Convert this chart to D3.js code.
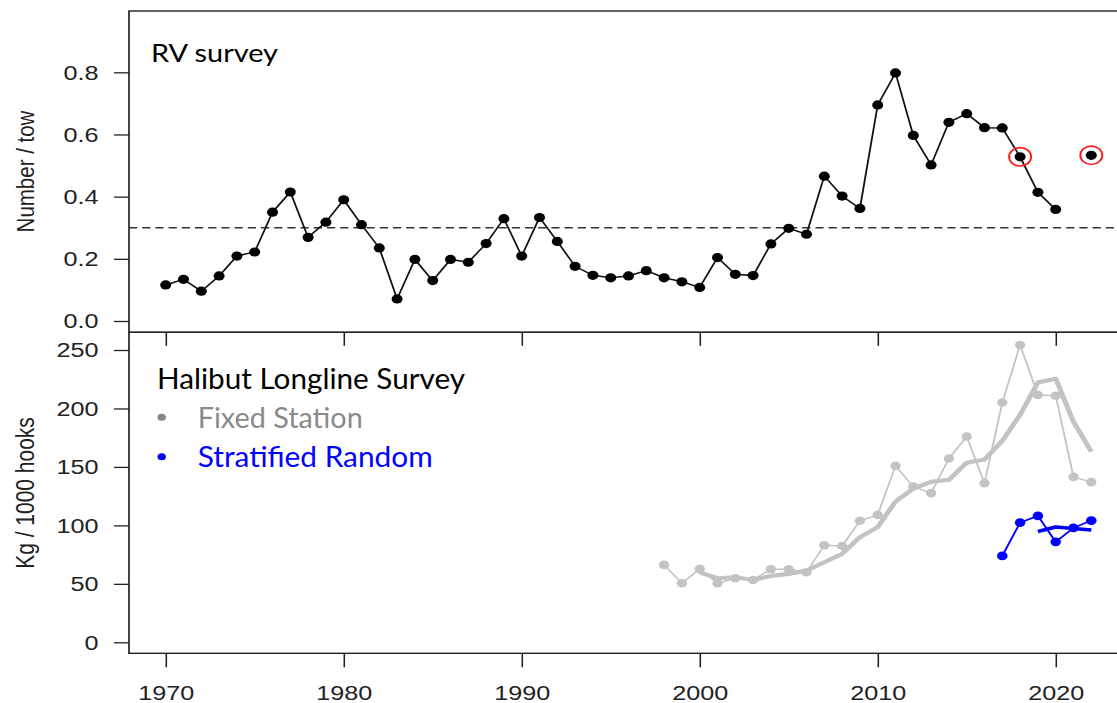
<!DOCTYPE html>
<html>
<head>
<meta charset="utf-8">
<script src="https://cdn.jsdelivr.net/npm/d3@7"></script>
<style>
  html, body { margin: 0; padding: 0; background: #fff; }
  svg { display: block; }
</style>
</head>
<body>
<div id="chart"></div>
<script>
// ---------------- DATA ----------------
const rvYears = [1970,1971,1972,1973,1974,1975,1976,1977,1978,1979,
                 1980,1981,1982,1983,1984,1985,1986,1987,1988,1989,
                 1990,1991,1992,1993,1994,1995,1996,1997,1998,1999,
                 2000,2001,2002,2003,2004,2005,2006,2007,2008,2009,
                 2010,2011,2012,2013,2014,2015,2016,2017,2018,2019,
                 2020,2021,2022];
const rvValues = [0.116,0.134,0.096,0.145,0.209,0.222,0.350,0.415,0.269,0.318,
                  0.390,0.310,0.235,0.071,0.198,0.130,0.198,0.189,0.249,0.329,
                  0.209,0.333,0.256,0.176,0.147,0.139,0.145,0.162,0.139,0.126,
                  0.108,0.204,0.150,0.146,0.248,0.298,0.279,0.466,0.402,0.362,
                  0.695,0.798,0.597,0.502,0.639,0.667,0.622,0.621,0.528,0.414,
                  0.359,null,0.533];
const rvHighlightYears = [2018, 2022];
const rvReference = 0.3;

const fixedYears = [1998,1999,2000,2001,2002,2003,2004,2005,2006,2007,
                    2008,2009,2010,2011,2012,2013,2014,2015,2016,2017,
                    2018,2019,2020,2021,2022];
const fixedValues = [66.2,50.5,62.8,50.5,54.8,53.3,62.5,62.5,59.9,83.0,
                     82.4,103.9,109.0,150.9,133.2,127.6,157.2,176.0,136.1,205.1,
                     254.3,211.5,210.9,141.5,137.0];
const fixedMeanYears = [2000,2001,2002,2003,2004,2005,2006,2007,2008,2009,
                        2010,2011,2012,2013,2014,2015,2016,2017,2018,2019,
                        2020,2021,2022];
const fixedMeanValues = [59.8,54.8,55.6,53.3,56.8,58.5,61.3,68.5,75.6,89.9,
                         98.5,120.4,131.4,137.2,139.0,153.6,156.4,172.3,194.6,222.3,
                         225.4,188.6,163.1];
const stratYears = [2017,2018,2019,2020,2021,2022];
const stratValues = [73.9,102.4,108.1,85.9,97.9,104.1];
const stratMeanYears = [2019,2020,2021,2022];
const stratMeanValues = [94.8,98.6,97.3,96.0];

const xTickValues = [1970,1980,1990,2000,2010,2020];
const topTickValues = [0,0.2,0.4,0.6,0.8];
const bottomTickValues = [0,50,100,150,200,250];

// ---------------- LAYOUT ----------------
const W = 1117, H = 703;
const sx = 1.2;                 // horizontal stretch of the whole figure
const left = 129 / sx, right = 1128.3 / sx;
const topPanel = {top: 11, bottom: 332.3};
const botPanel = {top: 332.3, bottom: 653.3};

const svg = d3.select('#chart').append('svg')
  .attr('width', W).attr('height', H)
  .attr('viewBox', `0 0 ${W} ${H}`);
svg.append('rect').attr('width', W).attr('height', H).attr('fill', '#fff');

const g = svg.append('g').attr('transform', `scale(${sx},1)`);

const x = d3.scaleLinear().domain([1970, 2020]).range([165.7 / sx, 1055.7 / sx]);
const yTop = d3.scaleLinear().domain([0, 0.8]).range([321, 72.3]);
const yBot = d3.scaleLinear().domain([0, 250]).range([642.3, 350]);

const axisFont = '"Liberation Sans", Arial, sans-serif';
const titleFont = 'Lato, "Open Sans", sans-serif';
const axisColor = '#222';

function styleAxis(sel) {
  sel.select('.domain').remove();
  sel.selectAll('.tick line').attr('stroke', axisColor).attr('stroke-width', 1.3);
  sel.selectAll('.tick text').attr('fill', axisColor)
    .style('font-family', axisFont).style('font-size', '21px');
}

// ---------- TOP PANEL ----------
// y axis
g.append('g').attr('transform', `translate(${left},0)`)
  .call(d3.axisLeft(yTop).tickValues(topTickValues).tickSize(12.5).tickPadding(13)
    .tickFormat(d3.format('.1f')))
  .call(styleAxis);

// outward x ticks (into lower panel), no labels
g.append('g').attr('transform', `translate(0,${topPanel.bottom})`)
  .call(d3.axisBottom(x).tickValues(xTickValues).tickSize(13.5).tickFormat(''))
  .call(styleAxis);

// reference dashed line
g.append('line')
  .attr('x1', left).attr('x2', right)
  .attr('y1', yTop(rvReference)).attr('y2', yTop(rvReference))
  .attr('stroke', '#333').attr('stroke-width', 1.4)
  .attr('stroke-dasharray', '6.8,4.2');

const rvData = rvYears.map((yr, i) => ({year: yr, value: rvValues[i]}));
const rvLine = d3.line()
  .defined(d => d.value !== null)
  .x(d => x(d.year)).y(d => yTop(d.value));
g.append('path').datum(rvData)
  .attr('d', rvLine).attr('fill', 'none')
  .attr('stroke', '#111').attr('stroke-width', 1.5);
g.selectAll('.rvdot').data(rvData.filter(d => d.value !== null))
  .join('circle').attr('class', 'rvdot')
  .attr('cx', d => x(d.year)).attr('cy', d => yTop(d.value))
  .attr('r', 4.6).attr('fill', '#000');
g.selectAll('.rvring').data(rvData.filter(d => rvHighlightYears.includes(d.year)))
  .join('circle').attr('class', 'rvring')
  .attr('cx', d => x(d.year)).attr('cy', d => yTop(d.value))
  .attr('r', 9.2).attr('fill', 'none')
  .attr('stroke', '#ff1a1a').attr('stroke-width', 1.6);

g.append('text')
  .attr('x', 151 / sx).attr('y', 61.7)
  .attr('textLength', 127 / sx).attr('lengthAdjust', 'spacingAndGlyphs')
  .style('font-family', titleFont).style('font-size', '25.5px')
  .attr('fill', '#000').text('RV survey');

g.append('text')
  .attr('transform', `translate(${33.5 / sx},${171.5}) rotate(-90)`)
  .attr('text-anchor', 'middle')
  .style('font-family', axisFont).style('font-size', '20.5px')
  .attr('fill', axisColor).text('Number / tow');

// ---------- BOTTOM PANEL ----------
g.append('g').attr('transform', `translate(${left},0)`)
  .call(d3.axisLeft(yBot).tickValues(bottomTickValues).tickSize(12.5).tickPadding(13))
  .call(styleAxis);

g.append('g').attr('transform', `translate(0,${botPanel.bottom})`)
  .call(d3.axisBottom(x).tickValues(xTickValues).tickSize(14).tickPadding(17.7)
    .tickFormat(d3.format('d')))
  .call(styleAxis);

const grey = '#c3c3c3';
const blue = '#0000ff';
const lineGen = d3.line().x(d => x(d.year)).y(d => yBot(d.value));

const fixedData = fixedYears.map((yr, i) => ({year: yr, value: fixedValues[i]}));
const fixedMean = fixedMeanYears.map((yr, i) => ({year: yr, value: fixedMeanValues[i]}));
const stratData = stratYears.map((yr, i) => ({year: yr, value: stratValues[i]}));
const stratMean = stratMeanYears.map((yr, i) => ({year: yr, value: stratMeanValues[i]}));

g.append('path').datum(fixedData).attr('d', lineGen)
  .attr('fill', 'none').attr('stroke', grey).attr('stroke-width', 1.5);
g.append('path').datum(fixedMean).attr('d', lineGen)
  .attr('fill', 'none').attr('stroke', grey).attr('stroke-width', 4.2)
  .attr('stroke-linejoin', 'round');
g.selectAll('.fdot').data(fixedData).join('circle').attr('class', 'fdot')
  .attr('cx', d => x(d.year)).attr('cy', d => yBot(d.value))
  .attr('r', 4.3).attr('fill', grey);

g.append('path').datum(stratData).attr('d', lineGen)
  .attr('fill', 'none').attr('stroke', blue).attr('stroke-width', 1.7);
g.append('path').datum(stratMean).attr('d', lineGen)
  .attr('fill', 'none').attr('stroke', blue).attr('stroke-width', 3.6)
  .attr('stroke-linejoin', 'round');
g.selectAll('.sdot').data(stratData).join('circle').attr('class', 'sdot')
  .attr('cx', d => x(d.year)).attr('cy', d => yBot(d.value))
  .attr('r', 4.4).attr('fill', blue);

// legend
g.append('text')
  .attr('x', 157 / sx).attr('y', 389.3)
  .attr('textLength', 308 / sx).attr('lengthAdjust', 'spacingAndGlyphs')
  .style('font-family', titleFont).style('font-size', '29px')
  .attr('fill', '#000').text('Halibut Longline Survey');
g.append('circle').attr('cx', 161.7 / sx).attr('cy', 417.3).attr('r', 3.5).attr('fill', '#858585');
g.append('text')
  .attr('x', 197.7 / sx).attr('y', 427.7)
  .attr('textLength', 165 / sx).attr('lengthAdjust', 'spacingAndGlyphs')
  .style('font-family', titleFont).style('font-size', '29px')
  .attr('fill', '#8a8a8a').text('Fixed Station');
g.append('circle').attr('cx', 161.7 / sx).attr('cy', 456.7).attr('r', 3.5).attr('fill', blue);
g.append('text')
  .attr('x', 197.7 / sx).attr('y', 466.7)
  .attr('textLength', 235 / sx).attr('lengthAdjust', 'spacingAndGlyphs')
  .style('font-family', titleFont).style('font-size', '29px')
  .attr('fill', blue).text('Stratified Random');

g.append('text')
  .attr('transform', `translate(${33.5 / sx},${493}) rotate(-90)`)
  .attr('text-anchor', 'middle')
  .style('font-family', axisFont).style('font-size', '21px')
  .attr('fill', axisColor).text('Kg / 1000 hooks');

// ---------- FRAMES ----------
g.append('rect')
  .attr('x', left).attr('y', topPanel.top)
  .attr('width', right - left).attr('height', topPanel.bottom - topPanel.top)
  .attr('fill', 'none').attr('stroke', '#222').attr('stroke-width', 1.4);
g.append('rect')
  .attr('x', left).attr('y', botPanel.top)
  .attr('width', right - left).attr('height', botPanel.bottom - botPanel.top)
  .attr('fill', 'none').attr('stroke', '#222').attr('stroke-width', 1.4);
</script>
</body>
</html>
